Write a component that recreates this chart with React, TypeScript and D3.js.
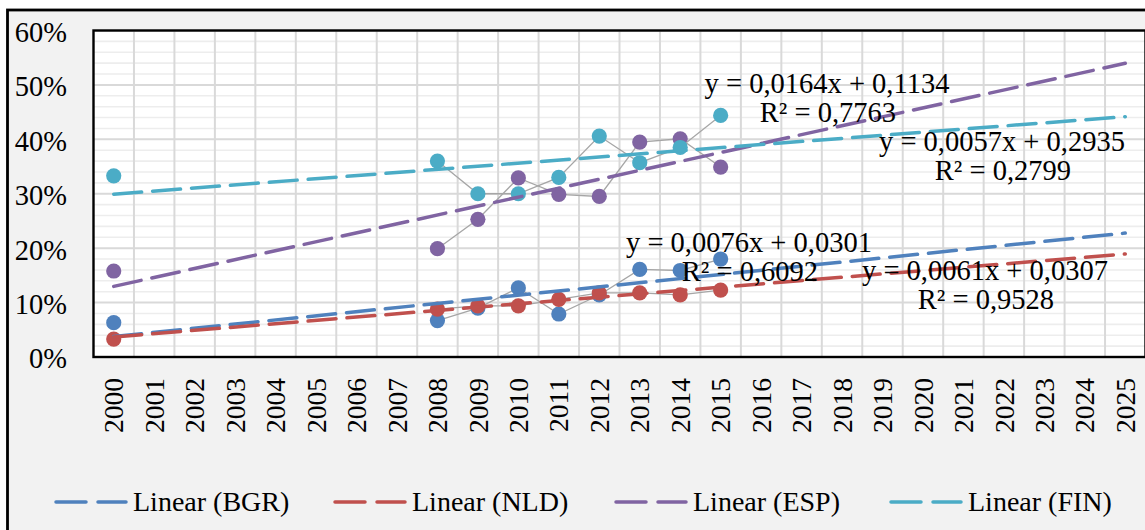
import React from "react";
import * as d3 from "d3";

const years: string[] = d3.range(2000, 2026).map(String);
const seriesNames = ["BGR", "NLD", "ESP", "FIN"];
const seriesColors = ["#4F81BD", "#C0504D", "#8064A2", "#4BACC6"];

// values by year (null = no data)
const dataYears = [2000, 2008, 2009, 2010, 2011, 2012, 2013, 2014, 2015];
const bgr = [0.063, 0.067, 0.09, 0.127, 0.079, 0.114, 0.161, 0.159, 0.18];
const nld = [0.033, 0.088, 0.094, 0.094, 0.106, 0.118, 0.118, 0.114, 0.123];
const esp = [0.158, 0.199, 0.253, 0.329, 0.299, 0.295, 0.395, 0.401, 0.349];
const fin = [0.333, 0.36, 0.3, 0.3, 0.33, 0.406, 0.357, 0.385, 0.444];

// trendline equations as displayed
const slopes = [0.0076, 0.0061, 0.0164, 0.0057];
const intercepts = [0.0301, 0.0307, 0.1134, 0.2935];
const r2 = ["0,6092", "0,9528", "0,7763", "0,2799"];
const eqText = ["y = 0,0076x + 0,0301", "y = 0,0061x + 0,0307", "y = 0,0164x + 0,1134", "y = 0,0057x + 0,2935"];
const eqPos = [
  [749, 252],
  [985, 280],
  [827, 93],
  [1002, 151],
];

const yTicks = [0, 0.1, 0.2, 0.3, 0.4, 0.5, 0.6];

const FONT = "Liberation Serif";

export default function App() {
  const W = 1145, H = 530;
  const left = 93.5, right = 1145.5, top = 30.5, bottom = 357;
  const x = d3.scaleBand<string>().domain(years).range([left, right]).padding(0);
  const y = d3.scaleLinear().domain([0, 0.6]).range([bottom, top]);
  const cx = (yr: string) => (x(yr) as number) + x.bandwidth() / 2;

  const all = [bgr, nld, esp, fin];
  const seriesPts = all.map((vals) =>
    years.map((yr) => {
      const i = dataYears.indexOf(+yr);
      return { yr, v: i >= 0 ? vals[i] : null };
    })
  );
  const line = d3
    .line<{ yr: string; v: number | null }>()
    .defined((d) => d.v !== null)
    .x((d) => cx(d.yr))
    .y((d) => y(d.v as number));

  const minorTicks = d3.range(0, 0.6001, 0.02).filter((t) => Math.abs(Math.round(t * 10) - t * 10) > 1e-6);

  const legendX = [56, 335, 616, 891];
  const ts = { fontFamily: FONT };

  return (
    <svg width={W} height={H} style={{ position: "absolute", left: 0, top: 0, fontFamily: FONT }}>
      <rect x={0} y={0} width={W} height={H} fill="#ffffff" />
      <rect x={7.5} y={10} width={W + 10} height={H + 10} fill="#f2f2f2" stroke="#000" strokeWidth={2.8} />
      <rect x={left} y={top} width={right - left} height={bottom - top} fill="#ffffff" />
      {minorTicks.map((t, i) => (
        <line key={"mn" + i} x1={left} x2={right} y1={y(t)} y2={y(t)} stroke="#ededed" strokeWidth={1.6} />
      ))}
      {years.slice(1).map((yr) => (
        <line key={"v" + yr} x1={x(yr)} x2={x(yr)} y1={top} y2={bottom} stroke="#d9d9d9" strokeWidth={2} />
      ))}
      {yTicks.map((t) => (
        <line key={"mj" + t} x1={left} x2={right} y1={y(t)} y2={y(t)} stroke="#d9d9d9" strokeWidth={2} />
      ))}
      <rect x={left} y={top} width={right - left} height={bottom - top} fill="none" stroke="#000" strokeWidth={2.4} />

      {seriesPts.map((pts, si) => (
        <g key={"s" + si}>
          <path d={line(pts) || ""} fill="none" stroke="#a6a6a6" strokeWidth={1.3} />
          {pts
            .filter((p) => p.v !== null)
            .map((p) => (
              <circle key={p.yr} cx={cx(p.yr)} cy={y(p.v as number)} r={7.6} fill={seriesColors[si]} />
            ))}
        </g>
      ))}

      {slopes.map((m, si) => (
        <line
          key={"t" + si}
          x1={cx(years[0])}
          x2={cx(years[years.length - 1])}
          y1={y(m * 1 + intercepts[si])}
          y2={y(m * years.length + intercepts[si])}
          stroke={seriesColors[si]}
          strokeWidth={3.5}
          strokeDasharray="28 11"
          strokeLinecap="round"
        />
      ))}

      {yTicks.map((t) => (
        <text key={"yl" + t} x={67} y={y(t) + 1.5} dy="0.35em" textAnchor="end" fontSize={28.5} fill="#000" style={ts}>
          {Math.round(t * 100) + "%"}
        </text>
      ))}
      {years.map((yr) => (
        <text
          key={"xl" + yr}
          transform={`translate(${cx(yr)},378) rotate(-90)`}
          dy="0.35em"
          textAnchor="end"
          fontSize={27.5}
          fill="#000"
          style={ts}
        >
          {yr}
        </text>
      ))}

      {eqText.map((t, si) => (
        <g key={"eq" + si}>
          <text x={eqPos[si][0]} y={eqPos[si][1]} textAnchor="middle" fontSize={28.5} fill="#000" style={ts}>
            {t}
          </text>
          <text x={eqPos[si][0] + 1} y={eqPos[si][1] + 29} textAnchor="middle" fontSize={28.5} fill="#000" style={ts}>
            {"R² = " + r2[si]}
          </text>
        </g>
      ))}

      {seriesNames.map((n, si) => (
        <g key={"lg" + si}>
          <line
            x1={legendX[si]}
            x2={legendX[si] + 70}
            y1={502}
            y2={502}
            stroke={seriesColors[si]}
            strokeWidth={3.5}
            strokeDasharray="30 12"
            strokeLinecap="round"
          />
          <text x={legendX[si] + 77} y={502} dy="0.33em" fontSize={28} fill="#000" style={ts}>
            {`Linear (${n})`}
          </text>
        </g>
      ))}
    </svg>
  );
}
